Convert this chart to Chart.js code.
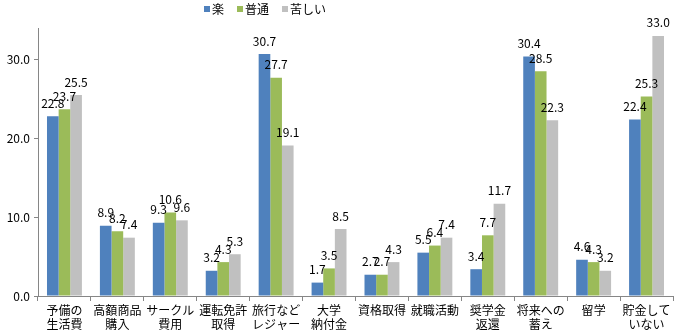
<!DOCTYPE html>
<html lang="ja">
<head>
<meta charset="utf-8">
<script src="https://cdn.jsdelivr.net/npm/chart.js@4/dist/chart.umd.min.js"></script>
<style>
  html, body { margin: 0; padding: 0; background: #fff; }
  #wrap { width: 684px; height: 332px; }
</style>
</head>
<body>
<div id="wrap"><canvas id="budgetChart" width="684" height="332"></canvas></div>
<script>
// ========== DATA ==========
const categories = [
  ['予備の', '生活費'], ['高額商品', '購入'], ['サークル', '費用'], ['運転免許', '取得'],
  ['旅行など', 'レジャー'], ['大学', '納付金'], '資格取得', '就職活動',
  ['奨学金', '返還'], ['将来への', '蓄え'], '留学', ['貯金して', 'いない']
];
const seriesNames = ['楽', '普通', '苦しい'];
const easyValues = [22.8, 8.9, 9.3, 3.2, 30.7, 1.7, 2.7, 5.5, 3.4, 30.4, 4.6, 22.4];
const normalValues = [23.7, 8.2, 10.6, 4.3, 27.7, 3.5, 2.7, 6.4, 7.7, 28.5, 4.3, 25.3];
const hardValues = [25.5, 7.4, 9.6, 5.3, 19.1, 8.5, 4.3, 7.4, 11.7, 22.3, 3.2, 33.0];
const yTicks = [0, 10, 20, 30];

const FONT = "'Noto Sans CJK JP', 'Noto Sans', sans-serif";
const colors = ['#4F81BD', '#9BBB59', '#C0C0C0'];

document.addEventListener('DOMContentLoaded', () => {

  // value labels above each bar
  const valueLabels = {
    id: 'valueLabels',
    afterDatasetsDraw(chart) {
      const ctx = chart.ctx;
      ctx.save();
      ctx.font = '12px ' + FONT;
      ctx.fillStyle = '#000';
      ctx.textAlign = 'center';
      ctx.textBaseline = 'bottom';
      chart.data.datasets.forEach((ds, i) => {
        chart.getDatasetMeta(i).data.forEach((bar, j) => {
          ctx.fillText(ds.data[j].toFixed(1), bar.x, bar.y - 7);
        });
      });
      ctx.restore();
    }
  };

  // small legend at the top, drawn by hand so it can sit left of centre
  const topLegend = {
    id: 'topLegend',
    afterDraw(chart) {
      const ctx = chart.ctx;
      ctx.save();
      ctx.font = '12px ' + FONT;
      ctx.textBaseline = 'middle';
      let x = 204;
      const y = 9;
      chart.data.datasets.forEach((ds) => {
        ctx.fillStyle = ds.backgroundColor;
        ctx.fillRect(x, y - 3, 6, 6);
        ctx.fillStyle = '#000';
        ctx.fillText(ds.label, x + 8, y);
        x += 8 + ctx.measureText(ds.label).width + 13;
      });
      ctx.restore();
    }
  };

  const ctx = document.getElementById('budgetChart').getContext('2d');
  new Chart(ctx, {
    type: 'bar',
    data: {
      labels: categories,
      datasets: [
        { label: seriesNames[0], data: easyValues, backgroundColor: colors[0] },
        { label: seriesNames[1], data: normalValues, backgroundColor: colors[1] },
        { label: seriesNames[2], data: hardValues, backgroundColor: colors[2] }
      ]
    },
    options: {
      responsive: false,
      animation: false,
      layout: { padding: { top: 28, right: 11, left: 0, bottom: 0 } },
      datasets: { bar: { barPercentage: 1, categoryPercentage: 0.66 } },
      plugins: { legend: { display: false }, tooltip: { enabled: false } },
      scales: {
        x: {
          grid: { drawOnChartArea: false, color: '#868686', tickLength: 5, offset: true },
          border: { color: '#868686' },
          ticks: { color: '#000', font: { family: FONT, size: 12 }, padding: 2, maxRotation: 0, autoSkip: false },
          afterFit(scale) { scale.height = 36; }
        },
        y: {
          min: 0,
          max: 34,
          grid: { drawOnChartArea: false, color: '#868686', tickLength: 4 },
          border: { color: '#868686' },
          afterBuildTicks(scale) { scale.ticks = yTicks.map(v => ({ value: v })); },
          ticks: {
            color: '#000',
            font: { family: FONT, size: 12 },
            padding: 4,
            callback: (v) => Number(v).toFixed(1)
          },
          afterFit(scale) { scale.width = 38; }
        }
      }
    },
    plugins: [valueLabels, topLegend]
  });
});
</script>
</body>
</html>
